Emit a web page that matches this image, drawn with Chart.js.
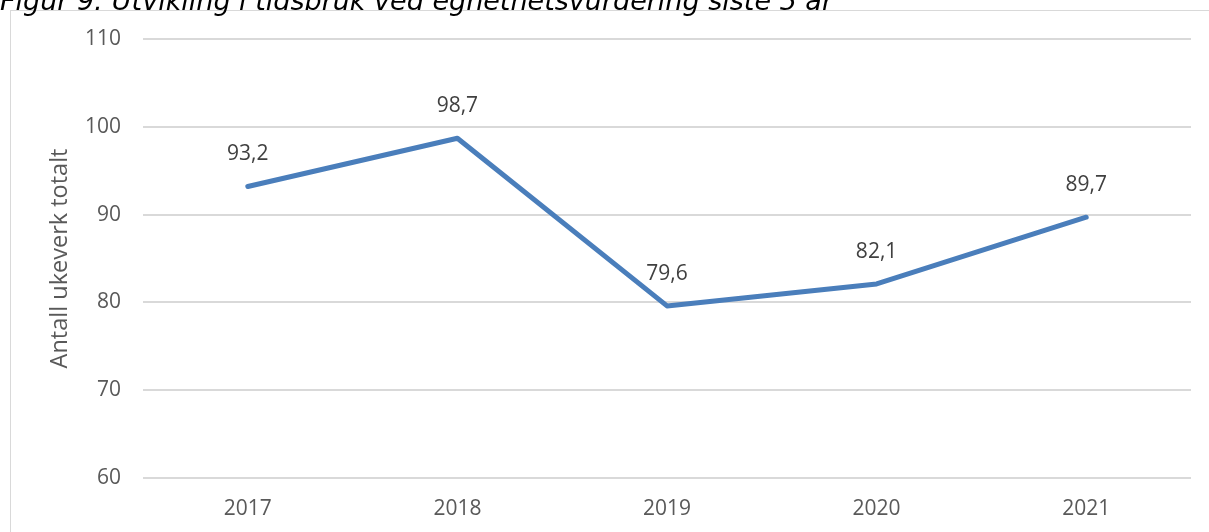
<!DOCTYPE html>
<html>
<head>
<meta charset="utf-8">
<script src="https://cdn.jsdelivr.net/npm/chart.js@4/dist/chart.umd.min.js"></script>
<style>
  html, body { margin: 0; padding: 0; background: #fff; overflow: hidden; }
  #wrap { position: relative; width: 1209px; height: 532px; overflow: hidden; }
  #frame { position: absolute; left: 10px; top: 10px; width: 1400px; height: 700px; border: 1px solid #d9d9d9; box-sizing: border-box; }
  #title { position: absolute; left: 0px; top: -14px; font-family: "DejaVu Sans", Verdana, sans-serif; font-style: italic; font-size: 27px; color: #000; white-space: nowrap; line-height: 30px; }
  canvas { position: absolute; left: 0; top: 0; }
</style>
</head>
<body>
<div id="wrap">
  <div id="frame"></div>
  <canvas id="c" width="1209" height="532"></canvas>
  <div id="title">Figur 9: Utvikling i tidsbruk ved egnethetsvurdering siste 5 år</div>
</div>
<script>
const categories = ["2017", "2018", "2019", "2020", "2021"];
const values = [93.2, 98.7, 79.6, 82.1, 89.7];
const valueLabels = ["93,2", "98,7", "79,6", "82,1", "89,7"];
const yTicks = [60, 70, 80, 90, 100, 110];
const yTitle = "Antall ukeverk totalt";

const FONT = "'Open Sans', sans-serif";

const labelPlugin = {
  id: 'valueLabels',
  afterDatasetsDraw(chart) {
    const ctx = chart.ctx;
    const meta = chart.getDatasetMeta(0);
    ctx.save();
    ctx.font = "21px " + FONT;
    ctx.fillStyle = "#404040";
    ctx.textAlign = "center";
    ctx.textBaseline = "middle";
    meta.data.forEach((pt, i) => {
      ctx.fillText(valueLabels[i], pt.x, pt.y - 32);
    });
    ctx.restore();
  }
};

new Chart(document.getElementById('c'), {
  type: 'line',
  data: {
    labels: categories,
    datasets: [{
      data: values,
      borderColor: '#4A7EBB',
      borderWidth: 5,
      borderCapStyle: 'round',
      borderJoinStyle: 'round',
      pointRadius: 0,
      tension: 0,
      fill: false
    }]
  },
  options: {
    responsive: false,
    animation: false,
    layout: { padding: { left: 0, top: 39, right: 18, bottom: 0 } },
    plugins: { legend: { display: false }, tooltip: { enabled: false } },
    scales: {
      x: {
        offset: true,
        grid: { display: false, drawTicks: false },
        border: { display: false },
        ticks: { color: '#595959', font: { family: FONT, size: 21 }, padding: 18, maxRotation: 0 },
        afterFit(scale) { scale.height = 54; }
      },
      y: {
        min: 60, max: 110,
        afterBuildTicks(scale) { scale.ticks = yTicks.map(v => ({ value: v })); },
        grid: { color: '#d9d9d9', lineWidth: 2, drawTicks: false },
        border: { display: false },
        ticks: { color: '#595959', font: { family: FONT, size: 21 }, padding: 22 },
        title: { display: true, text: yTitle, color: '#595959', font: { family: FONT, size: 23.5 }, padding: { top: 46, bottom: 0 } },
        afterFit(scale) { scale.width = 143; }
      }
    }
  },
  plugins: [labelPlugin]
});
</script>
</body>
</html>
